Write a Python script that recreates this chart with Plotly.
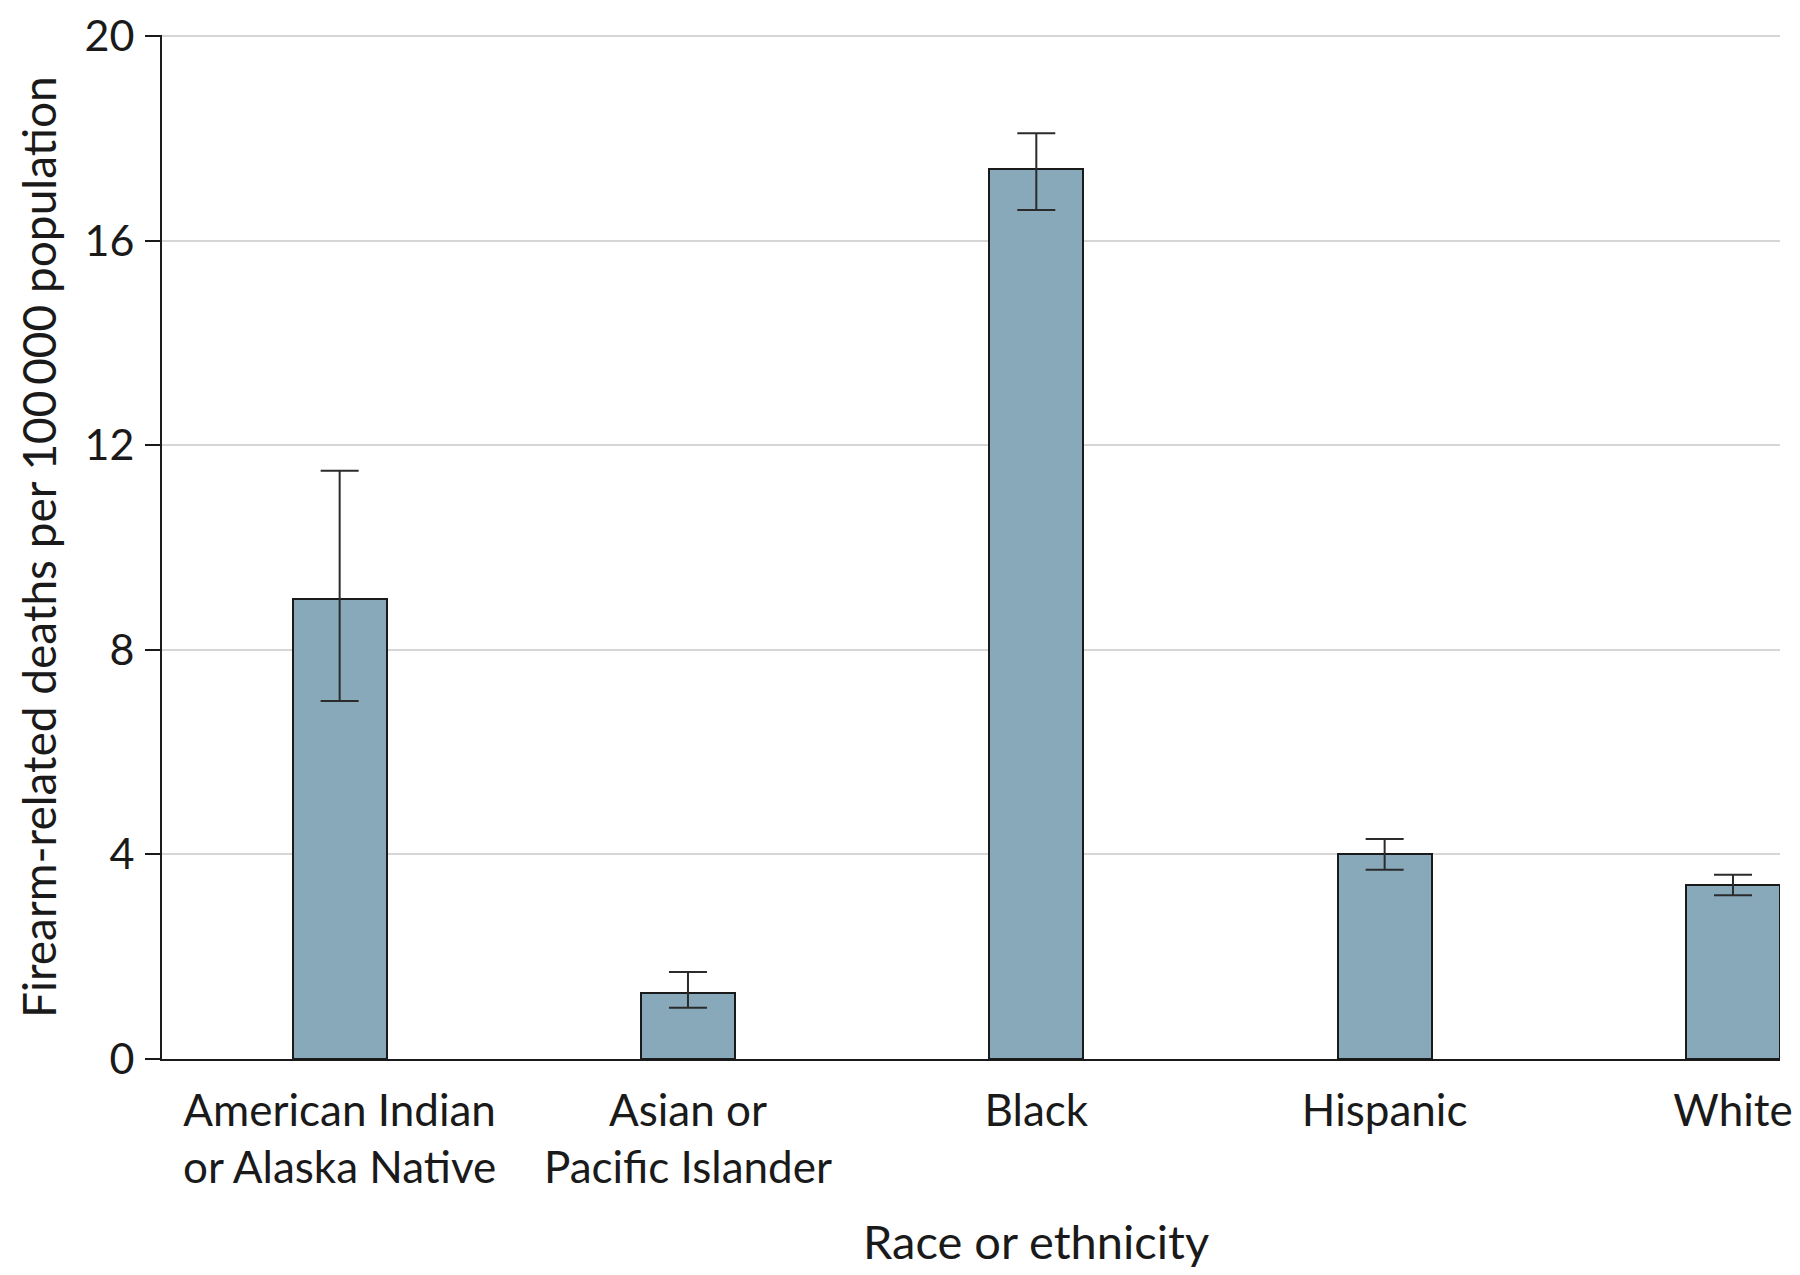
import plotly.graph_objects as go

# Data
groups = [
    "American Indian<br>or Alaska Native",
    "Asian or<br>Pacific Islander",
    "Black",
    "Hispanic",
    "White",
]
rates = [9.0, 1.3, 17.4, 4.0, 3.4]
ci_low = [7.0, 1.0, 16.6, 3.7, 3.2]
ci_high = [11.5, 1.7, 18.1, 4.3, 3.6]
y_ticks = [0, 4, 8, 12, 16, 20]

err_plus = [h - r for h, r in zip(ci_high, rates)]
err_minus = [r - l for r, l in zip(rates, ci_low)]

FONT = "Lato, 'Open Sans', sans-serif"
INK = "#1a1a1a"

fig = go.Figure()

fig.add_trace(
    go.Bar(
        x=list(range(len(groups))),
        y=rates,
        width=0.27,
        marker=dict(color="#87a9ba", line=dict(color=INK, width=2)),
        error_y=dict(
            type="data",
            symmetric=False,
            array=err_plus,
            arrayminus=err_minus,
            color="#2b2b2b",
            thickness=2,
            width=19,
        ),
        showlegend=False,
    )
)

# axis titles as annotations (x title sits under the middle category)
fig.add_annotation(
    text="Race or ethnicity",
    xref="x", x=2, yref="paper", y=0,
    yanchor="middle", yshift=-182,
    showarrow=False, font=dict(size=47),
)
fig.add_annotation(
    text="Firearm-related deaths per 100\u2009000 population",
    xref="paper", x=0, yref="paper", y=0.5,
    xanchor="center", yanchor="middle", xshift=-124,
    textangle=-90, showarrow=False, font=dict(size=46),
)

fig.update_layout(
    width=1800,
    height=1275,
    paper_bgcolor="white",
    plot_bgcolor="white",
    margin=dict(l=154, r=28, t=27, b=224),
    font=dict(family=FONT, size=44, color=INK),
    bargap=0,
    xaxis=dict(
        tickmode="array",
        tickvals=list(range(len(groups))),
        ticktext=groups,
        range=[-0.51, 4.135],
        showgrid=False,
        zeroline=False,
        showline=True,
        linecolor=INK,
        linewidth=2,
        ticks="",
        ticklabelstandoff=12,
        automargin=False,
    ),
    yaxis=dict(
        range=[0, 20.02],
        tickvals=y_ticks,
        tickfont=dict(size=43),
        showgrid=True,
        gridcolor="#d6d6d6",
        gridwidth=2,
        zeroline=False,
        showline=True,
        linecolor=INK,
        linewidth=2,
        ticks="outside",
        ticklen=15,
        tickwidth=2,
        tickcolor=INK,
        ticklabelstandoff=2,
        ticklabeloverflow="allow",
        automargin=False,
    ),
)

fig.write_html("out.html")
